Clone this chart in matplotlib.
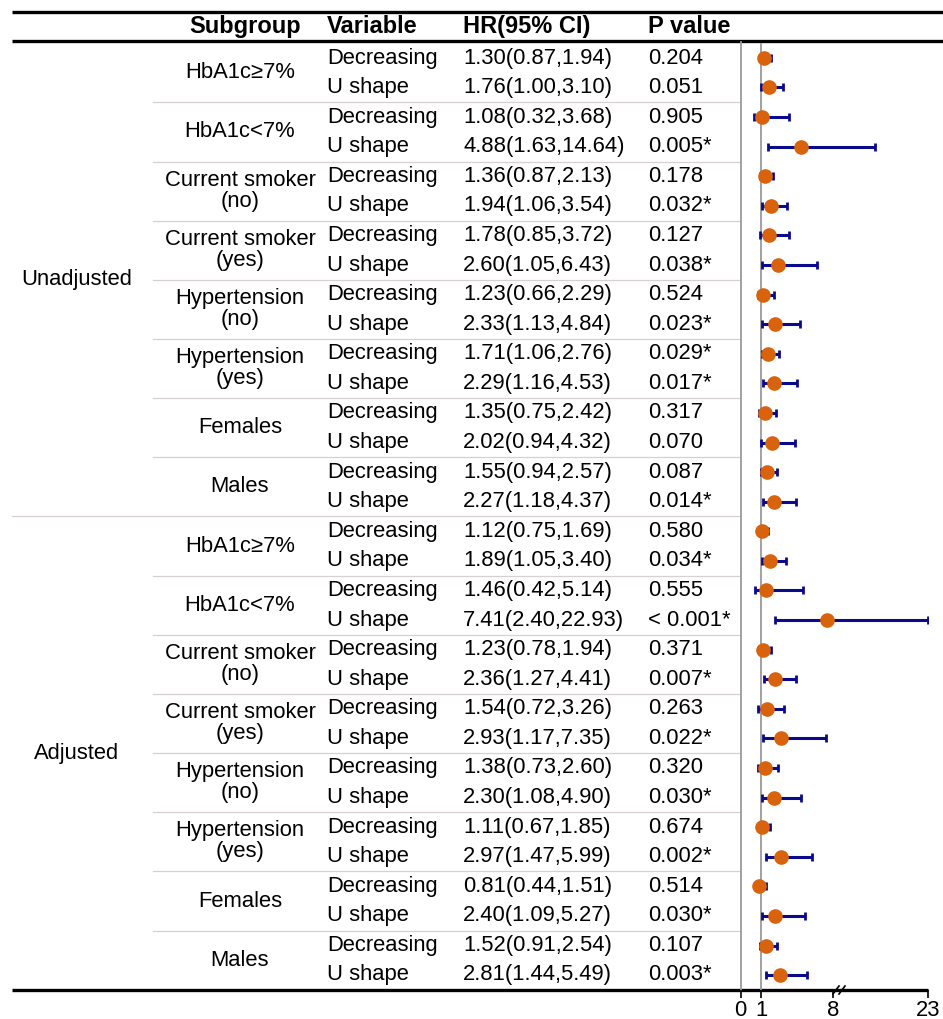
import numpy as np
import matplotlib
matplotlib.use("Agg")
import matplotlib.pyplot as plt

plt.rcParams['font.family'] = ['Liberation Sans', 'DejaVu Sans']

groups = ['Unadjusted', 'Adjusted']
subgroups = [('HbA1c≥7%',), ('HbA1c<7%',), ('Current smoker', '(no)'), ('Current smoker', '(yes)'),
             ('Hypertension', '(no)'), ('Hypertension', '(yes)'), ('Females',), ('Males',)]
variables = ['Decreasing', 'U shape']

hr = [1.30, 1.76, 1.08, 4.88, 1.36, 1.94, 1.78, 2.60, 1.23, 2.33, 1.71, 2.29, 1.35, 2.02, 1.55, 2.27,
      1.12, 1.89, 1.46, 7.41, 1.23, 2.36, 1.54, 2.93, 1.38, 2.30, 1.11, 2.97, 0.81, 2.40, 1.52, 2.81]
lo = [0.87, 1.00, 0.32, 1.63, 0.87, 1.06, 0.85, 1.05, 0.66, 1.13, 1.06, 1.16, 0.75, 0.94, 0.94, 1.18,
      0.75, 1.05, 0.42, 2.40, 0.78, 1.27, 0.72, 1.17, 0.73, 1.08, 0.67, 1.47, 0.44, 1.09, 0.91, 1.44]
hi = [1.94, 3.10, 3.68, 14.64, 2.13, 3.54, 3.72, 6.43, 2.29, 4.84, 2.76, 4.53, 2.42, 4.32, 2.57, 4.37,
      1.69, 3.40, 5.14, 22.93, 1.94, 4.41, 3.26, 7.35, 2.60, 4.90, 1.85, 5.99, 1.51, 5.27, 2.54, 5.49]
pval = ['0.204', '0.051', '0.905', '0.005*', '0.178', '0.032*', '0.127', '0.038*',
        '0.524', '0.023*', '0.029*', '0.017*', '0.317', '0.070', '0.087', '0.014*',
        '0.580', '0.034*', '0.555', '< 0.001*', '0.371', '0.007*', '0.263', '0.022*',
        '0.320', '0.030*', '0.674', '0.002*', '0.514', '0.030*', '0.107', '0.003*']
xticks = [-1, 1, 8, 23]
xticklabels = ['0', '1', '8', '23']

W, H = 943, 1019
fig = plt.figure(figsize=(W / 100, H / 100), dpi=100)
tab = fig.add_axes([0, 0, 1, 1])
tab.set_xlim(0, W)
tab.set_ylim(H, 0)
tab.axis('off')

y0, dy = 58.0, 29.58
row_y = lambda i: y0 + i * dy
fs = 15.8
n = len(hr)

# header + rules
hdr = dict(fontsize=17, fontweight='bold', va='center', family=['Liberation Sans Narrow', 'Liberation Sans'])
tab.text(245, 26, 'Subgroup', ha='center', **hdr)
tab.text(327, 26, 'Variable', ha='left', **hdr)
tab.text(463, 26, 'HR(95% CI)', ha='left', **hdr)
tab.text(648, 26, 'P value', ha='left', **hdr)
tab.plot([12, W], [12, 12], color='black', lw=2.4, solid_capstyle='butt')
tab.plot([12, W], [41, 41], color='black', lw=2.4, solid_capstyle='butt')
tab.plot([12, 928], [990, 990], color='black', lw=2.4, solid_capstyle='butt')

# body text
for i in range(n):
    y = row_y(i)
    tab.text(327, y, variables[i % 2], ha='left', va='center', fontsize=fs)
    tab.text(463, y, f'{hr[i]:.2f}({lo[i]:.2f},{hi[i]:.2f})', ha='left', va='center', fontsize=fs)
    tab.text(648, y, pval[i], ha='left', va='center', fontsize=fs)

for g, name in enumerate(groups):
    for k, sub in enumerate(subgroups):
        r = g * 16 + k * 2
        yc = (row_y(r) + row_y(r + 1)) / 2
        if len(sub) == 1:
            tab.text(240, yc, sub[0], ha='center', va='center', fontsize=fs)
        else:
            tab.text(240, yc - 11, sub[0], ha='center', va='center', fontsize=fs)
            tab.text(240, yc + 10, sub[1], ha='center', va='center', fontsize=fs)
        if k > 0:
            yb = row_y(r - 0.5)
            tab.plot([153, 740], [yb, yb], color='#d6d0d0', lw=0.9)
    tab.text(77, (row_y(g * 16) + row_y(g * 16 + 15)) / 2, name, ha='center', va='center', fontsize=fs)
tab.plot([12, 740], [row_y(15.5)] * 2, color='#d6d0d0', lw=0.9)

# vertical grey lines
tab.plot([740.7, 740.7], [42, 990], color='#9a9a9a', lw=1.3)

# axis break marks
for xb in (836, 842):
    tab.plot([xb - 3, xb + 3], [994, 986], color='black', lw=1.2)

# forest panel with broken scale
def fwd(v):
    v = np.asarray(v, dtype=float)
    return np.where(v <= 8, v, 8 + (v - 8) * 6.4 / 10.3)

def inv(u):
    u = np.asarray(u, dtype=float)
    return np.where(u <= 8, u, 8 + (u - 8) * 10.3 / 6.4)

fx0, fx1, fy0, fy1 = 740.7, 928, 43, 990
ax = fig.add_axes([fx0 / W, (H - fy1) / H, (fx1 - fx0) / W, (fy1 - fy0) / H])
ax.patch.set_alpha(0)
ax.set_xscale('function', functions=(fwd, inv))
ax.set_xlim(-1, 23)
ax.set_ylim(n - 0.5, -0.5)
ax.axvline(1, color='#9a9a9a', lw=1.3, zorder=1)

rows = np.arange(n)
hr_a, lo_a, hi_a = np.array(hr), np.array(lo), np.array(hi)
ax.errorbar(hr_a, rows, xerr=[hr_a - lo_a, hi_a - hr_a], fmt='none', ecolor='#0a0a8c',
            elinewidth=2.2, capsize=3.2, capthick=2, zorder=2)
ax.plot(hr_a, rows, 'o', color='#d9620c', markersize=9.5, zorder=3)

for s in ['top', 'right', 'left', 'bottom']:
    ax.spines[s].set_visible(False)
ax.set_yticks([])
ax.set_xticks(xticks)
ax.set_xticklabels(xticklabels, fontsize=fs)
ax.xaxis.set_minor_locator(matplotlib.ticker.NullLocator())
ax.tick_params(axis='x', length=6, width=1.2, pad=1)

fig.savefig('out.png', dpi=100)
